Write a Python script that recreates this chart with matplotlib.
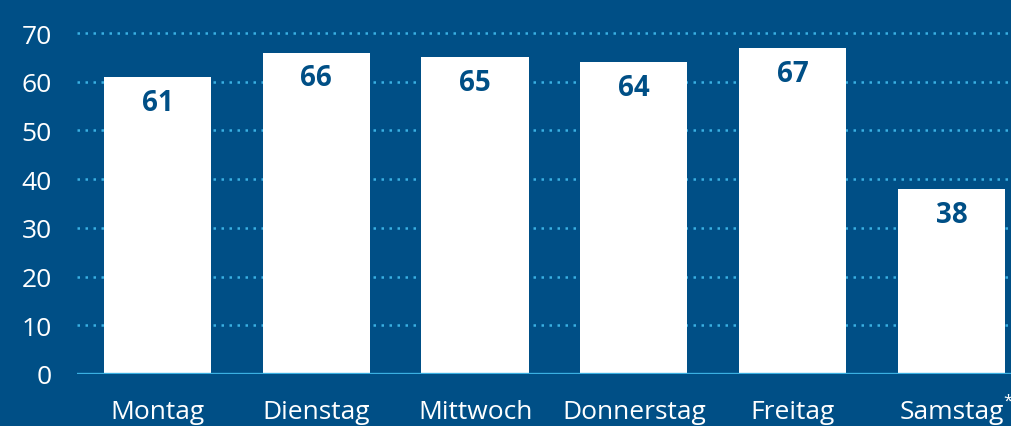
import numpy as np
import matplotlib.pyplot as plt

days = ['Montag', 'Dienstag', 'Mittwoch', 'Donnerstag', 'Freitag', 'Samstag']
values = [61, 66, 65, 64, 67, 38]
yticks = [0, 10, 20, 30, 40, 50, 60, 70]

bg = '#004f86'
grid_c = '#3ab0e2'

fig = plt.figure(figsize=(10.11, 4.27), dpi=100, facecolor=bg)
ax = fig.add_axes([77 / 1011, 52 / 427, 1 - 77 / 1011, 375 / 427])
ax.set_facecolor(bg)

x = np.arange(len(days))
ax.bar(x, values, width=0.675, color='white', zorder=3)

for gy in yticks[1:]:
    ax.axhline(gy, color=grid_c, lw=1.8, linestyle=(0, (1, 2.2)), zorder=1)
ax.axhline(0, color=grid_c, lw=2.4, zorder=4)

for xi, v in zip(x, values):
    ax.text(xi, v - 5.2, str(v), ha='center', va='center', color=bg,
            fontsize=20, fontweight='bold', family='Open Sans', zorder=5)

ax.set_xlim(-0.507, 5.375)
ax.set_ylim(0, 77)
ax.set_yticks(yticks)
ax.set_yticklabels([str(t) for t in yticks], color='white', fontsize=19,
                   family='Open Sans')
ax.set_xticks(x)
ax.set_xticklabels(days, color='white', fontsize=19, family='Open Sans')
ax.tick_params(axis='y', length=0, pad=18)
ax.tick_params(axis='x', length=0, pad=18)
ax.text(5.357, -0.072, '*', transform=ax.get_xaxis_transform(), color='white',
        fontsize=12, family='Open Sans', ha='center', va='center')
for s in ax.spines.values():
    s.set_visible(False)

plt.savefig('out.png', dpi=100, facecolor=bg)
